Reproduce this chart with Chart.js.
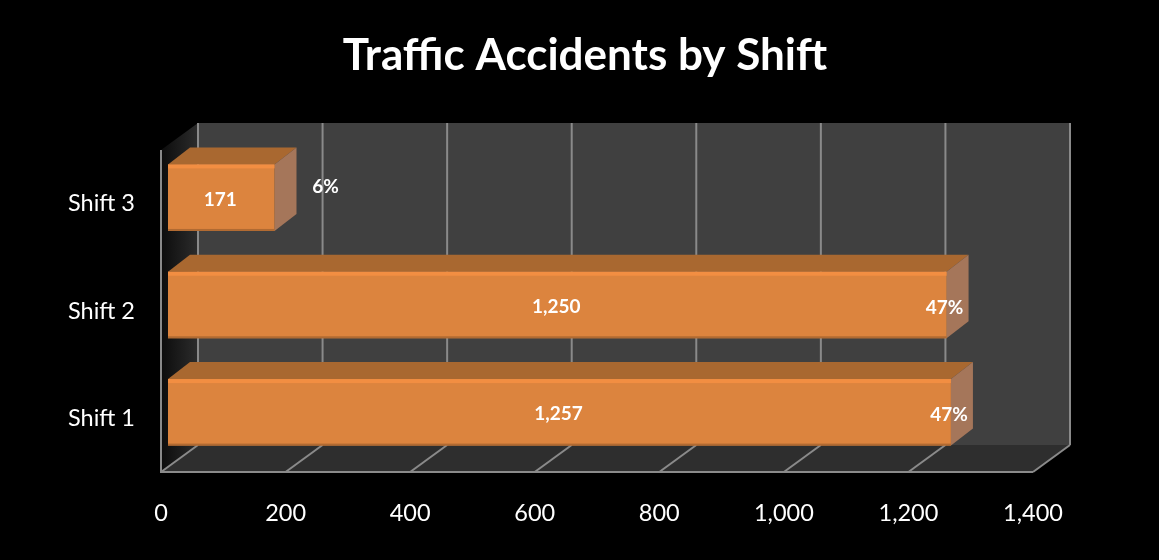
<!DOCTYPE html>
<html>
<head>
<meta charset="utf-8">
<script src="https://cdn.jsdelivr.net/npm/chart.js@4"></script>
<style>
  html, body { margin: 0; padding: 0; background: #000; }
  #wrap { position: absolute; left: 0; top: 0; width: 1159px; height: 560px; }
</style>
</head>
<body>
<div id="wrap"><canvas id="chart"></canvas></div>
<script>
const categories = ['Shift 3', 'Shift 2', 'Shift 1'];
const accidents = [171, 1250, 1257];
const shares = [6, 47, 47];
const xTickValues = [0, 200, 400, 600, 800, 1000, 1200, 1400];

// fake 3D: how far the back wall sits from the front plane
const WALL_DX = 37, WALL_DY = 27;
// bars sit a bit inside the box
const BAR_DX = 7, BAR_DY = 6;
const DEPTH_X = 22, DEPTH_Y = 17;
const LINE = '#8a8a8a';

function poly(ctx, pts, fill) {
  ctx.beginPath();
  pts.forEach((p, i) => i ? ctx.lineTo(p[0], p[1]) : ctx.moveTo(p[0], p[1]));
  ctx.closePath();
  ctx.fillStyle = fill;
  ctx.fill();
}

function line(ctx, x1, y1, x2, y2) {
  ctx.beginPath();
  ctx.moveTo(x1, y1);
  ctx.lineTo(x2, y2);
  ctx.stroke();
}

const box3d = {
  id: 'box3d',
  beforeDatasetsDraw(chart) {
    const {ctx, chartArea: a, scales: {x}} = chart;
    const wd = WALL_DX, hd = WALL_DY;
    ctx.save();
    // back wall
    poly(ctx, [[a.left + wd, a.top - hd], [a.right + wd, a.top - hd], [a.right + wd, a.bottom - hd], [a.left + wd, a.bottom - hd]], '#404040');
    // floor
    poly(ctx, [[a.left, a.bottom], [a.right, a.bottom], [a.right + wd, a.bottom - hd], [a.left + wd, a.bottom - hd]], '#2e2e2e');
    // left wall, fades out to black towards the front
    const g = ctx.createLinearGradient(a.left, 0, a.left + wd, 0);
    g.addColorStop(0, '#0c0c0c');
    g.addColorStop(1, '#2c2c2c');
    poly(ctx, [[a.left, a.top], [a.left + wd, a.top - hd], [a.left + wd, a.bottom - hd], [a.left, a.bottom]], g);

    ctx.lineWidth = 2;
    ctx.strokeStyle = LINE;
    xTickValues.forEach(v => {
      const px = x.getPixelForValue(v);
      line(ctx, px + wd, a.top - hd, px + wd, a.bottom - hd);
      line(ctx, px, a.bottom, px + wd, a.bottom - hd);
    });
    line(ctx, a.left, a.top, a.left, a.bottom);
    line(ctx, a.left - 1, a.bottom, a.right, a.bottom);
    ctx.restore();

    // top and side of the bars, drawn under the front face
    ctx.save();
    ctx.translate(BAR_DX, -BAR_DY);
    chart.getDatasetMeta(0).data.forEach(bar => {
      const t = bar.y - bar.height / 2, b = bar.y + bar.height / 2;
      poly(ctx, [[bar.base, t], [bar.x, t], [bar.x + DEPTH_X, t - DEPTH_Y], [bar.base + DEPTH_X, t - DEPTH_Y]], '#a96830');
      poly(ctx, [[bar.x, t], [bar.x + DEPTH_X, t - DEPTH_Y], [bar.x + DEPTH_X, b - DEPTH_Y], [bar.x, b]], '#a5765a');
    });
  },
  afterDatasetsDraw(chart) {
    const {ctx} = chart;
    chart.getDatasetMeta(0).data.forEach(bar => {
      const t = bar.y - bar.height / 2, b = bar.y + bar.height / 2;
      ctx.fillStyle = '#f28e42';
      ctx.fillRect(bar.base, t, bar.x - bar.base, 4);
      ctx.fillStyle = '#b06a32';
      ctx.fillRect(bar.base, b - 2, bar.x - bar.base, 2);
    });
    ctx.restore();

    // value and percent labels
    ctx.save();
    ctx.fillStyle = '#fff';
    ctx.font = 'bold 19px Lato, sans-serif';
    ctx.textAlign = 'center';
    ctx.textBaseline = 'middle';
    chart.getDatasetMeta(0).data.forEach((bar, i) => {
      const mid = (bar.base + bar.x) / 2 + BAR_DX;
      ctx.fillText(accidents[i].toLocaleString('en-US'), mid - 1, bar.y - BAR_DY + 2);
      // small bar gets its percent outside, long ones over the end
      const small = bar.x - bar.base < 200;
      const px = small ? bar.x + BAR_DX + 51 : bar.x + BAR_DX - 2;
      const py = small ? bar.y - BAR_DY - 11 : bar.y - BAR_DY + 3;
      ctx.fillText(shares[i] + '%', px, py);
    });
    ctx.restore();
  }
};

new Chart(document.getElementById('chart'), {
  type: 'bar',
  data: {
    labels: categories,
    datasets: [{
      data: accidents,
      backgroundColor: '#dc843e',
      barPercentage: 0.62,
      categoryPercentage: 1,
      clip: false
    }]
  },
  options: {
    indexAxis: 'y',
    animation: false,
    responsive: true,
    maintainAspectRatio: false,
    layout: { padding: { top: 29, left: 11 } },
    plugins: {
      legend: { display: false },
      tooltip: { enabled: false },
      title: {
        display: true,
        text: 'Traffic Accidents by Shift',
        color: '#fff',
        font: { family: 'Lato, sans-serif', size: 44, weight: 'bold', lineHeight: 1.2 },
        padding: { top: 0, bottom: 68.2 }
      }
    },
    scales: {
      x: {
        min: 0,
        max: 1400,
        afterFit(s) { s.height = 88; },
        afterBuildTicks(s) { s.ticks = xTickValues.map(v => ({value: v})); },
        border: { display: false },
        grid: { display: false },
        ticks: {
          color: '#fff',
          padding: 19,
          maxRotation: 0,
          font: { family: 'Lato, sans-serif', size: 23.5 },
          callback: v => v.toLocaleString('en-US')
        }
      },
      y: {
        afterFit(s) { s.width = 150; },
        border: { display: false },
        grid: { display: false },
        ticks: {
          color: '#fff',
          padding: 18,
          font: { family: 'Lato, sans-serif', size: 23.5 }
        }
      },
      // empty axis, only keeps the plot clear of the right edge so the title stays centred on the page
      spacer: {
        type: 'category',
        position: 'right',
        afterFit(s) { s.width = 126; },
        border: { display: false },
        grid: { display: false },
        ticks: { display: false }
      }
    }
  },
  plugins: [box3d]
});
</script>
</body>
</html>
